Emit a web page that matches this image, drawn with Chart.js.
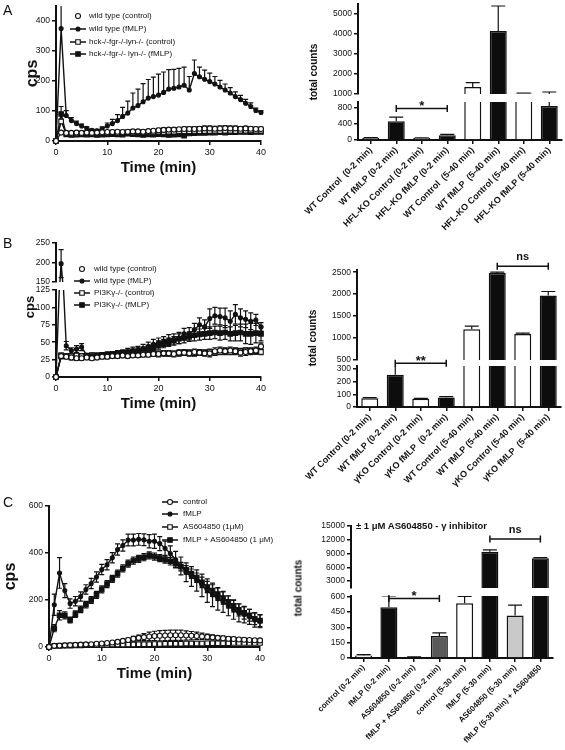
<!DOCTYPE html>
<html>
<head>
<meta charset="utf-8">
<title>fMLP chemiluminescence</title>
<script src="https://cdn.jsdelivr.net/npm/chart.js@4.4.1/dist/chart.umd.min.js"></script>
<style>
  html, body { margin: 0; padding: 0; background: #fff; }
  body { position: relative; width: 565px; height: 750px; overflow: hidden;
         font-family: "Liberation Sans", Arial, Helvetica, sans-serif; color: #111; }
  canvas { position: absolute; }
  .lbl { position: absolute; white-space: nowrap; }
  .panel { font-size: 14px; line-height: 16px; }
  .vt { font-weight: bold; transform: translate(-50%, -50%) rotate(-90deg); }
  .leg { font-size: 8px; line-height: 10px; }
</style>
</head>
<body>
<script>
"use strict";
var ink = '#111111';
var FONT = '"Liberation Sans", Arial, Helvetica, sans-serif';
Chart.defaults.font.family = FONT;
Chart.defaults.color = ink;

// shared time axis of the three kinetic panels
var minutes = [0,1,2,3,4,5,6,7,8,9,10,11,12,13,14,15,16,17,18,19,20,21,22,23,24,25,26,27,28,29,30,31,32,33,34,35,36,37,38,39,40];
var timeTicks = [0, 10, 20, 30, 40];

// A - kinetics (cps)
var aNames = ['wild type (control)', 'wild type (fMLP)', 'hck-/-fgr-/-lyn-/- (control)', 'hck-/-fgr-/- lyn-/- (fMLP)'];
var aWtCtrl = [0,28,27,27,28,27,28,27,28,29,30,30,31,30,31,32,32,31,33,34,36,37,38,38,39,40,40,40,41,42,42,41,42,43,42,42,41,42,41,40,40];
var aWtCtrlErr = [0,4,3,3,3,3,3,3,3,4,4,4,4,4,4,5,5,5,5,5,6,6,6,6,6,7,7,7,7,8,8,8,8,8,8,8,7,7,7,6,6];
var aWtFmlp = [0,375,85,68,58,50,42,36,34,40,50,58,68,82,93,110,118,131,143,148,153,162,173,176,180,186,170,225,214,206,198,190,180,170,160,148,138,126,115,102,95];
var aWtFmlpErr = [0,110,16,10,8,6,5,4,5,7,10,14,20,30,40,50,55,60,62,65,70,68,65,63,62,60,45,45,32,30,28,25,22,20,18,16,14,13,12,8,6];
var aHckCtrl = [0,65,25,24,25,25,26,25,27,26,27,28,27,28,29,28,30,29,30,30,31,30,31,31,32,32,32,33,32,33,33,34,33,34,34,33,34,34,35,34,34];
var aHckCtrlErr = [0,8,4,4,4,4,4,4,4,4,4,4,4,4,4,4,4,4,4,4,5,5,5,5,5,5,5,5,5,5,5,5,5,5,5,5,5,5,5,5,5];
var aHckFmlp = [0,90,22,20,21,22,21,22,20,21,22,23,22,21,24,23,22,20,22,21,23,22,20,21,22,18,25,26,27,27,28,28,29,28,29,29,30,30,29,30,30];
var aHckFmlpErr = [0,25,3,3,3,3,3,3,3,3,3,3,3,3,3,3,3,3,3,3,4,4,4,4,4,4,4,4,4,4,4,4,4,4,4,4,4,4,4,4,4];
var aTicks = [0, 100, 200, 300, 400];

// A - total counts
var aBarLabels = ['WT Control  (0-2 min)', 'WT fMLP (0-2 min)', 'HFL-KO Control (0-2 min)', 'HFL-KO fMLP (0-2 min)',
                  'WT Control  (5-40 min)', 'WT fMLP  (5-40 min)', 'HFL-KO Control (5-40 min)', 'HFL-KO fMLP (5-40 min)'];
var aBarValues = [50, 470, 50, 120, 1350, 4150, 1030, 850];
var aBarErrors = [8, 100, 6, 20, 220, 1250, 20, 250];
var aLowTicks = [0, 200, 400, 600, 800];
var aHighTicks = [1000, 2000, 3000, 4000, 5000];
var aSigLow = [{ from: 1, to: 3, at: 790, text: '*' }];

// B - kinetics (cps)
var bNames = ['wild type (control)', 'wild type (fMLP)', 'PI3K\u03b3-/- (control)', 'PI3K\u03b3-/- (fMLP)'];
var bWtCtrl = [0,30,29,28,27,27,28,27,28,29,29,30,30,31,30,31,31,32,32,33,33,34,34,33,35,35,34,36,35,34,34,37,38,37,38,37,35,36,37,38,44];
var bWtCtrlErr = [0,3,3,3,3,3,3,3,3,3,3,3,3,3,3,3,3,3,3,3,4,4,4,4,4,4,4,4,4,4,5,5,5,5,5,5,5,5,5,5,5];
var bWtFmlp = [0,197,45,38,40,43,31,30,31,32,33,33,34,35,36,38,39,41,44,47,49,51,53,54,56,62,62,68,75,72,84,88,87,85,80,90,85,83,80,82,72];
var bWtFmlpErr = [0,36,6,4,5,5,3,3,3,3,3,3,4,4,5,5,5,6,6,7,7,7,8,8,8,8,9,9,10,10,14,12,12,14,15,14,13,12,12,8,6];
var bPiCtrl = [0,31,30,30,31,30,30,31,30,30,31,31,32,31,32,32,32,33,33,33,34,34,33,34,34,35,35,34,35,35,36,35,36,37,36,37,37,38,37,37,36];
var bPiCtrlErr = [0,3,3,3,3,3,3,3,3,3,3,3,3,3,3,3,3,3,3,3,3,3,3,3,4,4,4,4,4,4,4,4,4,4,4,4,4,4,4,4,4];
var bPiFmlp = [0,30,30,28,29,30,30,31,31,32,32,33,33,34,35,36,37,38,40,43,46,48,50,52,55,56,58,60,61,62,63,64,63,64,62,63,64,62,62,63,62];
var bPiFmlpErr = [0,4,3,3,3,3,3,3,3,3,3,3,4,4,4,4,5,5,5,5,6,6,6,6,7,7,7,8,8,8,9,9,10,10,10,11,12,14,15,14,10];
var bLowTicks = [0, 25, 50, 75, 100, 125];
var bHighTicks = [150, 175, 200, 225, 250];

// B - total counts
var bBarLabels = ['WT Control (0-2 min)', 'WT fMLP (0-2 min)', '\u03b3KO Control (0-2 min)', '\u03b3KO fMLP  (0-2 min)',
                  'WT Control (5-40 min)', 'WT fMLP (5-40 min)', '\u03b3KO Control (5-40 min)', '\u03b3KO fMLP  (5-40 min)'];
var bBarValues = [70, 255, 65, 75, 1200, 2480, 1090, 1970];
var bBarErrors = [4, 80, 3, 8, 70, 20, 20, 90];
var bBarLowTicks = [0, 100, 200, 300];
var bBarHighTicks = [500, 1000, 1500, 2000, 2500];
var bSigLow = [{ from: 1, to: 3, at: 347, text: '**' }];
var bSigHigh = [{ from: 5, to: 7, at: 2636, text: 'ns' }];

// C - kinetics (cps)
var cNames = ['control', 'fMLP', 'AS604850 (1\u03bcM)', 'fMLP + AS604850 (1 \u03bcM)'];
var cCtrl = [0,5,6,7,8,9,10,11,12,14,15,17,19,22,26,30,35,39,42,45,47,48,49,50,50,50,49,48,47,45,43,41,39,37,35,34,32,31,30,29,28];
var cCtrlErr = [0,2,2,2,2,2,3,3,3,3,3,4,4,5,6,8,10,12,15,18,20,22,22,22,22,22,20,18,16,14,12,11,10,9,8,8,7,7,6,6,6];
var cFmlp = [0,180,315,240,185,195,215,245,270,298,330,350,380,415,432,455,455,458,456,450,450,440,420,398,372,345,318,300,283,262,240,222,205,192,175,158,145,138,128,115,110];
var cFmlpErr = [0,45,65,30,20,20,20,20,22,22,22,22,22,24,24,25,25,25,25,28,30,30,30,32,35,38,40,42,45,48,50,50,48,45,42,40,38,35,32,30,28];
var cAs = [0,5,5,6,6,7,7,8,8,8,9,9,10,10,10,11,11,12,12,12,13,13,14,14,14,14,15,15,15,15,16,16,16,16,16,17,17,17,17,17,17];
var cAsErr = [0,2,2,2,2,2,2,2,2,2,3,3,3,3,3,3,3,3,3,3,4,4,4,4,4,4,4,4,4,4,5,5,5,5,5,5,5,5,5,5,5];
var cFmlpAs = [0,80,135,135,115,140,160,180,200,222,245,268,290,312,335,355,368,375,382,390,385,378,372,365,355,342,328,312,295,275,255,240,225,208,192,175,158,145,135,120,112];
var cFmlpAsErr = [0,15,20,15,12,14,14,14,14,15,15,15,15,15,15,15,15,15,15,15,15,15,15,16,16,18,18,20,20,22,24,25,26,26,26,26,26,26,25,25,25];
var cTicks = [0, 200, 400, 600];

// C - total counts
var cBarLabels = ['control (0-2 min)', 'fMLP (0-2 min)', 'AS604850 (0-2 min)', 'fMLP + AS604850 (0-2 min)',
                  'control (5-30 min)', 'fMLP (5-30 min)', 'AS604850 (5-30 min)', 'fMLP (5-30 min) + AS604850'];
var cBarValues = [25, 495, 8, 215, 535, 9400, 415, 8000];
var cBarErrors = [8, 110, 3, 30, 65, 400, 100, 100];
var cBarLowTicks = [0, 150, 300, 450, 600];
var cBarHighTicks = [3000, 6000, 9000, 12000, 15000];
var cSigLow = [{ from: 1, to: 3, at: 580, text: '*' }];
var cSigHigh = [{ from: 5, to: 7, at: 12160, text: 'ns' }];

// bar fills (white / black / greys)
var fillAB = ['#fff', '#0d0d0d', '#fff', '#0d0d0d', '#fff', '#0d0d0d', '#fff', '#0d0d0d'];
var fillC = ['#fff', '#0d0d0d', '#fff', '#5a5a5a', '#fff', '#0d0d0d', '#c9c9c9', '#0d0d0d'];

// marker looks
var openCircle = { shape: 'circle', r: 2.5, fill: '#fff' };
var dot = { shape: 'circle', r: 2, fill: ink };
var openSquare = { shape: 'rect', r: 3.2, fill: '#fff' };
var fullSquare = { shape: 'rect', r: 3.2, fill: ink };

var errorBarPlugin = {
    id: 'errorBars',
    beforeDatasetsDraw: function (chart) {
        var ctx = chart.ctx, area = chart.chartArea;
        chart.data.datasets.forEach(function (ds, di) {
            if (!ds.errors) return;
            var meta = chart.getDatasetMeta(di);
            var ys = chart.scales[meta.yAxisID];
            var c = ds.clip;
            ctx.save();
            ctx.beginPath();
            ctx.rect(area.left - c.left, area.top - c.top, area.width + c.left + c.right, area.height + c.top + c.bottom);
            ctx.clip();
            ctx.strokeStyle = ink;
            ctx.lineWidth = 1.2;
            meta.data.forEach(function (el, i) {
                var e = ds.errors[i];
                if (!e) return;
                var v = ds.data[i];
                if (typeof v === 'object') v = v.y;
                var top = ys.getPixelForValue(v + e);
                var both = ds.errDir === 'both';
                var bot = ys.getPixelForValue(both ? v - e : v);
                var w = ds.capHalf;
                ctx.beginPath();
                ctx.moveTo(el.x, bot);
                ctx.lineTo(el.x, top);
                ctx.moveTo(el.x - w, top);
                ctx.lineTo(el.x + w, top);
                if (both) {
                    ctx.moveTo(el.x - w, bot);
                    ctx.lineTo(el.x + w, bot);
                }
                ctx.stroke();
            });
            ctx.restore();
        });
    }
};

function bracketPlugin(marks) {
    return {
        id: 'brackets',
        afterDatasetsDraw: function (chart) {
            var ctx = chart.ctx, xs = chart.scales.x, ys = chart.scales.y;
            marks.forEach(function (m) {
                var x1 = xs.getPixelForValue(m.from), x2 = xs.getPixelForValue(m.to);
                var y = ys.getPixelForValue(m.at);
                var star = m.text.charAt(0) === '*';
                ctx.save();
                ctx.strokeStyle = ink;
                ctx.lineWidth = 1.5;
                ctx.beginPath();
                ctx.moveTo(x1, y - 3.5); ctx.lineTo(x1, y + 3.5);
                ctx.moveTo(x1, y); ctx.lineTo(x2, y);
                ctx.moveTo(x2, y - 3.5); ctx.lineTo(x2, y + 3.5);
                ctx.stroke();
                ctx.fillStyle = ink;
                ctx.textAlign = 'center';
                ctx.textBaseline = 'alphabetic';
                ctx.font = 'bold ' + (star ? 13 : 11) + 'px ' + FONT;
                ctx.fillText(m.text, (x1 + x2) / 2, star ? y + 1.5 : y - 6);
                ctx.restore();
            });
        }
    };
}

function axisLine() {
    return { display: true, drawOnChartArea: false, drawTicks: true, tickLength: 4, color: ink, lineWidth: 1.5 };
}

function yScale(range, tickVals, width, title) {
    return {
        min: range[0], max: range[1],
        afterBuildTicks: function (s) { s.ticks = tickVals.map(function (v) { return { value: v }; }); },
        afterFit: function (s) { s.width = width; },
        grid: axisLine(),
        border: { display: true, color: ink, width: 2 },
        ticks: { font: { size: 8.5 }, color: ink, padding: 2, callback: function (v) { return String(v); } },
        title: title || { display: false }
    };
}

function mount(area, yW, xH, padT, padB, padR, config) {
    var left = area.l - yW, top = area.t - padT;
    var w = area.r + padR - left, h = area.b + xH + padB - top;
    var cv = document.createElement('canvas');
    cv.width = w; cv.height = h;
    cv.style.left = left + 'px'; cv.style.top = top + 'px';
    cv.style.width = w + 'px'; cv.style.height = h + 'px';
    document.body.appendChild(cv);
    config.options.responsive = false;
    config.options.animation = false;
    config.options.devicePixelRatio = 1;
    config.options.events = [];
    config.options.layout = { padding: { top: padT, right: padR, bottom: padB, left: 0 } };
    return new Chart(cv, config);
}

function lineSet(label, vals, errs, look, errDir) {
    return {
        label: label,
        data: vals.map(function (v, i) { return { x: minutes[i], y: v }; }),
        errors: errs, errDir: errDir || 'both', capHalf: 2.5,
        borderColor: ink, borderWidth: 1.4, tension: 0,
        pointStyle: look.shape, pointRadius: look.r, pointBackgroundColor: look.fill,
        pointBorderColor: ink, pointBorderWidth: 1.1
    };
}

function makeLine(s) {
    s.sets.forEach(function (d) { d.clip = s.clip; });
    var x = s.showX ? {
        type: 'linear', min: 0, max: 40,
        afterBuildTicks: function (sc) { sc.ticks = timeTicks.map(function (v) { return { value: v }; }); },
        afterFit: function (sc) { sc.height = s.xH; },
        grid: axisLine(),
        border: { display: true, color: ink, width: 2 },
        ticks: { font: { size: 9 }, color: ink, padding: 2, maxRotation: 0 },
        title: { display: true, text: 'Time (min)', color: ink, font: { size: 15, weight: 'bold' }, padding: { top: 0, bottom: 0 } }
    } : { type: 'linear', min: 0, max: 40, display: false };
    return mount(s.area, s.yW, s.showX ? s.xH : 0, s.padT, s.padB, s.padR, {
        type: 'line',
        data: { datasets: s.sets },
        options: {
            plugins: { legend: { display: false }, tooltip: { enabled: false } },
            scales: { x: x, y: yScale(s.range, s.ticks, s.yW, s.yTitle) }
        },
        plugins: [errorBarPlugin]
    });
}

function makeBar(s) {
    var x = s.showX ? {
        offset: true,
        afterFit: function (sc) { sc.height = s.xH; },
        grid: { display: true, offset: false, drawOnChartArea: false, drawTicks: true, tickLength: 4, color: ink, lineWidth: 1.5 },
        border: { display: true, color: ink, width: 2 },
        ticks: { font: { size: s.labelSize, weight: 'bold' }, color: ink, minRotation: 45, maxRotation: 45, autoSkip: false, padding: 1 }
    } : { offset: true, display: false };
    return mount(s.area, s.yW, s.showX ? s.xH : 0, s.padT, s.padB, s.padR, {
        type: 'bar',
        data: {
            labels: s.labels,
            datasets: [{
                data: s.values, errors: s.errors, errDir: 'up', capHalf: 7,
                backgroundColor: s.fills, borderColor: ink, borderWidth: 1.5,
                barPercentage: s.barPct, categoryPercentage: 1,
                clip: { left: 0, top: 0, right: 0, bottom: 0 }
            }]
        },
        options: {
            plugins: { legend: { display: false }, tooltip: { enabled: false } },
            scales: { x: x, y: yScale(s.range, s.ticks, s.yW) }
        },
        plugins: [errorBarPlugin, bracketPlugin(s.marks || [])]
    });
}

function addText(text, cls, left, top, css) {
    var d = document.createElement('div');
    d.className = 'lbl ' + cls;
    d.textContent = text;
    d.style.left = left + 'px';
    d.style.top = top + 'px';
    if (css) d.style.cssText += css;
    document.body.appendChild(d);
    return d;
}

function addLegend(chart, markX, textX, rows, noLine) {
    chart.data.datasets.forEach(function (ds, i) {
        var mk = document.createElement('canvas');
        mk.width = 18; mk.height = 10;
        mk.style.left = (markX - 9) + 'px';
        mk.style.top = (rows[i] - 5) + 'px';
        var g = mk.getContext('2d');
        if (!noLine[i]) {
            g.strokeStyle = ink; g.lineWidth = 1.5;
            g.beginPath(); g.moveTo(1, 5); g.lineTo(17, 5); g.stroke();
        }
        g.fillStyle = ds.pointBackgroundColor;
        g.strokeStyle = ink;
        g.lineWidth = ds.pointBorderWidth;
        Chart.helpers.drawPoint(g, { pointStyle: ds.pointStyle, radius: ds.pointRadius, borderWidth: ds.pointBorderWidth, rotation: 0 }, 9, 5);
        document.body.appendChild(mk);
        addText(ds.label, 'leg', textX, rows[i] - 5);
    });
}

var lowClip = { left: 6, right: 6, top: 0, bottom: 6 };
var highClip = { left: 6, right: 6, top: 6, bottom: 0 };
var cpsTitle = function (pad) {
    return { display: true, text: 'cps', color: ink, font: { size: 16, weight: 'bold' }, padding: { top: pad, bottom: 0 } };
};

// ---------- A ----------
var chartA = makeLine({
    area: { l: 56, t: 6, r: 261, b: 141 }, yW: 56, xH: 36, padT: 14, padB: 0, padR: 19, showX: true,
    range: [0, 450], ticks: aTicks, clip: lowClip, yTitle: cpsTitle(23),
    sets: [
        lineSet(aNames[0], aWtCtrl, aWtCtrlErr, openCircle, 'up'),
        lineSet(aNames[1], aWtFmlp, aWtFmlpErr, dot, 'up'),
        lineSet(aNames[2], aHckCtrl, aHckCtrlErr, openSquare, 'up'),
        lineSet(aNames[3], aHckFmlp, aHckFmlpErr, fullSquare, 'up')
    ]
});
addLegend(chartA, 78, 89, [16, 29, 42, 54], [true, false, false, false]);

makeBar({ area: { l: 358, t: 4, r: 562, b: 94 }, yW: 70, xH: 0, padT: 12, padB: 10, padR: 3, showX: false,
    labels: aBarLabels, values: aBarValues, errors: aBarErrors, fills: fillAB, barPct: 0.667,
    range: [1000, 5500], ticks: aHighTicks });
makeBar({ area: { l: 358, t: 102, r: 562, b: 140 }, yW: 70, xH: 94, padT: 12, padB: 0, padR: 3, showX: true,
    labels: aBarLabels, values: aBarValues, errors: aBarErrors, fills: fillAB, barPct: 0.667, labelSize: 9,
    range: [0, 950], ticks: aLowTicks, marks: aSigLow });

// ---------- B ----------
var bSets = function () {
    return [
        lineSet(bNames[0], bWtCtrl, bWtCtrlErr, openCircle),
        lineSet(bNames[1], bWtFmlp, bWtFmlpErr, dot),
        lineSet(bNames[2], bPiCtrl, bPiCtrlErr, openSquare),
        lineSet(bNames[3], bPiFmlp, bPiFmlpErr, fullSquare)
    ];
};
makeLine({
    area: { l: 56, t: 243, r: 261, b: 282 }, yW: 56, xH: 0, padT: 12, padB: 10, padR: 19, showX: false,
    range: [150, 250], ticks: bHighTicks, clip: highClip, sets: bSets()
});
var chartB = makeLine({
    area: { l: 56, t: 290, r: 261, b: 377 }, yW: 56, xH: 36, padT: 12, padB: 0, padR: 19, showX: true,
    range: [0, 125], ticks: bLowTicks, clip: lowClip, sets: bSets()
});
addLegend(chartB, 82, 94, [269, 281, 293, 305], [true, false, false, false]);

makeBar({ area: { l: 357, t: 270, r: 561, b: 360 }, yW: 70, xH: 0, padT: 26, padB: 10, padR: 4, showX: false,
    labels: bBarLabels, values: bBarValues, errors: bBarErrors, fills: fillAB, barPct: 0.667,
    range: [500, 2550], ticks: bBarHighTicks, marks: bSigHigh });
makeBar({ area: { l: 357, t: 366, r: 561, b: 407 }, yW: 70, xH: 92, padT: 20, padB: 0, padR: 4, showX: true,
    labels: bBarLabels, values: bBarValues, errors: bBarErrors, fills: fillAB, barPct: 0.667, labelSize: 9,
    range: [0, 325], ticks: bBarLowTicks, marks: bSigLow });

// ---------- C ----------
var chartC = makeLine({
    area: { l: 49, t: 506, r: 260, b: 647 }, yW: 49, xH: 36, padT: 12, padB: 0, padR: 20, showX: true,
    range: [0, 600], ticks: cTicks, clip: lowClip, yTitle: cpsTitle(1.4),
    sets: [
        lineSet(cNames[0], cCtrl, cCtrlErr, openCircle),
        lineSet(cNames[1], cFmlp, cFmlpErr, dot),
        lineSet(cNames[2], cAs, cAsErr, openSquare),
        lineSet(cNames[3], cFmlpAs, cFmlpAsErr, fullSquare)
    ]
});
addLegend(chartC, 170, 183, [502, 514, 527, 540], [false, false, false, false]);

makeBar({ area: { l: 351, t: 526, r: 553, b: 588 }, yW: 70, xH: 0, padT: 12, padB: 10, padR: 4, showX: false,
    labels: cBarLabels, values: cBarValues, errors: cBarErrors, fills: fillC, barPct: 0.673,
    range: [1500, 15000], ticks: cBarHighTicks, marks: cSigHigh });
makeBar({ area: { l: 351, t: 596, r: 553, b: 658 }, yW: 70, xH: 92, padT: 12, padB: 0, padR: 4, showX: true,
    labels: cBarLabels, values: cBarValues, errors: cBarErrors, fills: fillC, barPct: 0.673, labelSize: 8,
    range: [0, 605], ticks: cBarLowTicks, marks: cSigLow });

// ---------- loose text ----------
addText('A', 'panel', 3, 2);
addText('B', 'panel', 3, 235);
addText('C', 'panel', 3, 494);
addText('cps', 'vt', 29, 307, 'font-size:13px;');
addText('total counts', 'vt', 313, 72, 'font-size:10px;');
addText('total counts', 'vt', 312, 338, 'font-size:10px;');
addText('total counts', 'vt', 298, 588, 'font-size:10px;');
addText('\u00b1 1 \u03bcM AS604850 - \u03b3 inhibitor', '', 356, 520, 'font-size:9.5px;font-weight:bold;line-height:12px;');
</script>
</body>
</html>
